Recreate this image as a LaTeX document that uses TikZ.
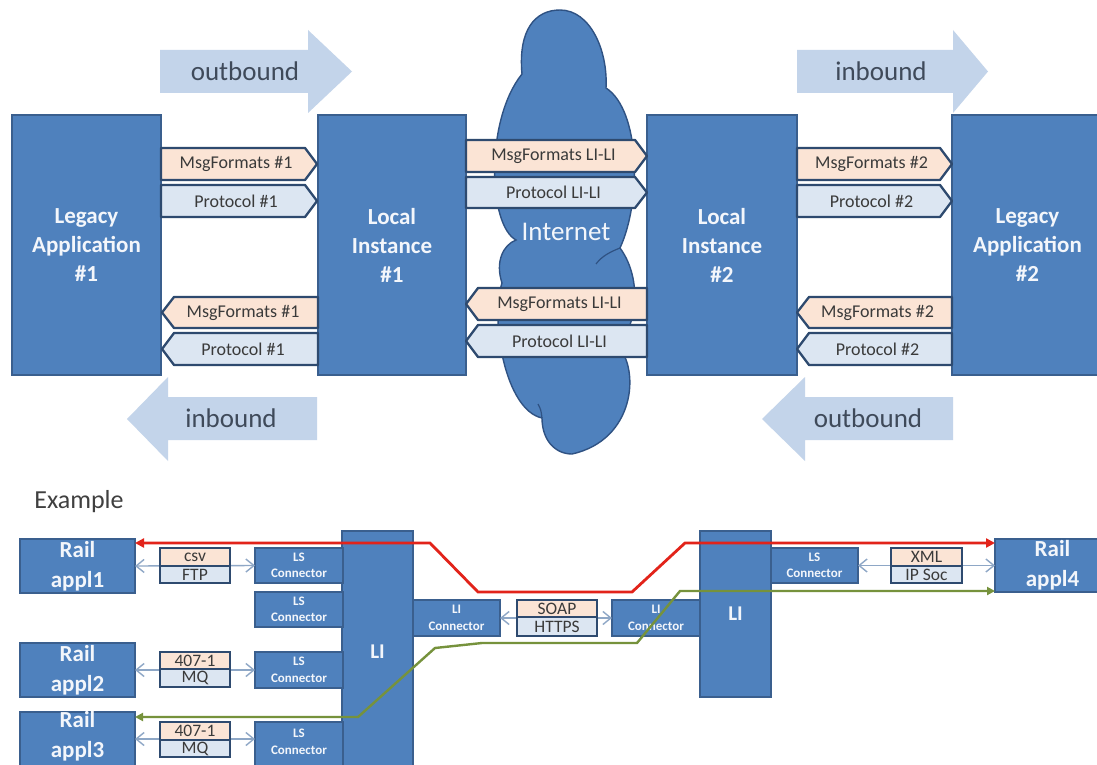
\documentclass[tikz,border=0pt]{standalone}
\usepackage{fontspec}
\setmainfont{Carlito}
\usetikzlibrary{arrows.meta}

\definecolor{boxblue}{HTML}{4F81BD}
\definecolor{boxedge}{HTML}{3A5F8E}
\definecolor{cloudedge}{HTML}{2F5283}
\definecolor{bandedge}{HTML}{2E4A6F}
\definecolor{peach}{HTML}{FBE4D5}
\definecolor{paleblue}{HTML}{DCE6F2}
\definecolor{flowfill}{HTML}{C3D4EA}
\definecolor{flowtext}{HTML}{3F4A5A}
\definecolor{labeltext}{HTML}{3A3A3A}
\definecolor{headtext}{HTML}{404040}
\definecolor{linkgray}{HTML}{8EA7C6}
\definecolor{pathred}{HTML}{E2231A}
\definecolor{pathgreen}{HTML}{76923C}
\definecolor{boxtext}{HTML}{F3F6FB}

% filled block with a centred label: name, x1, y1, x2, y2, label style, text
\newcommand\blockat[7]{%
  \node[box, minimum width={(#4)-(#2)}, minimum height={(#5)-(#3)},
        label={[#6]center:{#7}}] (#1) at (#2,#3) {};}
% right-pointing band: name, x1, x2, ytop, ybottom, fill, text
\newcommand\bandR[7]{%
  \filldraw[band, fill=#6] (#2,#4) -- ({#3-12},#4) -- (#3,{(#4+#5)/2})
     -- ({#3-12},#5) -- (#2,#5) -- cycle;
  \node[bandtext] (#1) at ({(#2+#3)/2-3},{(#4+#5)/2}) {#7};}
% left-pointing band: name, x1, x2, ytop, ybottom, fill, text
\newcommand\bandL[7]{%
  \filldraw[band, fill=#6] (#3,#4) -- ({#2+12},#4) -- (#2,{(#4+#5)/2})
     -- ({#2+12},#5) -- (#3,#5) -- cycle;
  \node[bandtext] (#1) at ({(#2+#3)/2+3},{(#4+#5)/2}) {#7};}
% stacked format/transport cells: name, x1, ytop, x2, ysplit, ybottom, upper, lower
\newcommand\cellpair[8]{%
  \node[cell, fill=peach, minimum width={(#4)-(#2)}, minimum height={(#5)-(#3)}] (#1a) at (#2,#3) {#7};
  \node[cell, fill=paleblue, minimum width={(#4)-(#2)}, minimum height={(#6)-(#5)}] (#1b) at (#2,#5) {#8};}

\begin{document}
\begin{tikzpicture}[x=1pt,y=-1pt,
  box/.style={draw=boxedge, line width=1.3pt, fill=boxblue, inner sep=0pt, outer sep=0pt, anchor=north west},
  biglabel/.style={text=boxtext, align=center, font=\fontsize{23}{29}\selectfont\bfseries},
  raillabel/.style={text=boxtext, align=center, font=\fontsize{23}{30}\selectfont\bfseries},
  conlabel/.style={text=boxtext, align=center, font=\fontsize{13}{16.5}\selectfont\bfseries},
  lilabel/.style={text=boxtext, font=\fontsize{21}{26}\selectfont\bfseries},
  band/.style={draw=bandedge, line width=2.3pt, line join=round},
  bandtext/.style={text=labeltext, font=\fontsize{18}{20}\selectfont, inner sep=0pt},
  flow/.style={fill=flowfill},
  flowlabel/.style={text=flowtext, font=\fontsize{27}{32}\selectfont, inner sep=0pt},
  cloud/.style={fill=boxblue, draw=cloudedge, line width=1.4pt},
  cloudfold/.style={draw=cloudedge, line width=1.2pt},
  cloudlabel/.style={text=boxtext, font=\fontsize{27}{32}\selectfont},
  cell/.style={draw=bandedge, line width=1.6pt, inner sep=0pt, outer sep=0pt, anchor=north west,
               text=labeltext, font=\fontsize{17.5}{18}\selectfont},
  link/.style={draw=linkgray, line width=1.4pt,
               arrows={Straight Barb[length=8pt,width=13pt]-Straight Barb[length=8pt,width=13pt]}},
  redpath/.style={draw=pathred, line width=2.8pt,
               arrows={Triangle[length=9pt,width=9pt]-Triangle[length=9pt,width=9pt]}},
  greenpath/.style={draw=pathgreen, line width=2.4pt,
               arrows={Triangle[length=8pt,width=8pt]-Triangle[length=8pt,width=8pt]}},
  extext/.style={text=headtext, font=\fontsize{26}{30}\selectfont, inner sep=0pt}
]
\useasboundingbox (0,0) rectangle (1097,765);
\fill[white] (0,0) rectangle (1097,765);

% ---------- direction arrows ----------
\fill[flow] (160,50) -- (308,50) -- (308,30) -- (352,71.5) -- (308,113) -- (308,93) -- (160,93) -- cycle;
\node[flowlabel] (outA) at (245,71.5) {outbound};
\fill[flow] (797,50) -- (953,50) -- (953,30) -- (988,71.5) -- (953,113) -- (953,93) -- (797,93) -- cycle;
\node[flowlabel] (inB) at (881,71.5) {inbound};
\fill[flow] (317,397) -- (168,397) -- (168,377) -- (127,419) -- (168,461) -- (168,440) -- (317,440) -- cycle;
\node[flowlabel] (inA) at (231,418.5) {inbound};
\fill[flow] (953,397) -- (805,397) -- (805,377) -- (762,419) -- (805,461) -- (805,440) -- (953,440) -- cycle;
\node[flowlabel] (outB) at (868,418.5) {outbound};

% ---------- internet cloud ----------
\filldraw[cloud] (560,10) .. controls (590,10) and (608,50) .. (606,88)
  .. controls (640,110) and (642,200) .. (620,248)
  .. controls (640,275) and (640,320) .. (618,346)
  .. controls (640,370) and (635,440) .. (572,454)
  .. controls (555,454) and (542,440) .. (542,418)
  .. controls (505,410) and (490,320) .. (502,283)
  .. controls (495,262) and (503,245) .. (516,240)
  .. controls (488,225) and (485,120) .. (522,74)
  .. controls (518,30) and (535,10) .. (560,10) -- cycle;
\draw[cloudfold] (620,248) .. controls (610,252) and (602,256) .. (596,264);
\draw[cloudfold] (542,418) .. controls (541,410) .. (538,404);
\node[cloudlabel] (net) at (566,232) {Internet};

% ---------- applications and local instances ----------
\blockat{legA}{12}{115}{161}{375}{biglabel}{Legacy\\Application\\\#1}
\blockat{locA}{318}{115}{466}{375}{biglabel}{Local\\Instance\\\#1}
\blockat{locB}{647}{115}{797}{375}{biglabel}{Local\\Instance\\\#2}
\blockat{legB}{952}{115}{1103}{375}{biglabel}{Legacy\\Application\\\#2}

% ---------- message format / protocol bands ----------
\bandR{mfA1}{161}{317}{148}{180}{peach}{MsgFormats \#1}
\bandR{prA1}{161}{317}{185}{217}{paleblue}{Protocol \#1}
\bandL{mfA2}{162}{318}{297}{328}{peach}{MsgFormats \#1}
\bandL{prA2}{162}{318}{333}{365}{paleblue}{Protocol \#1}
\bandR{mfN1}{466}{647}{140}{172}{peach}{MsgFormats LI-LI}
\bandR{prN1}{466}{647}{177}{208}{paleblue}{Protocol LI-LI}
\bandL{mfN2}{466}{647}{288}{320}{peach}{MsgFormats LI-LI}
\bandL{prN2}{466}{647}{325}{357}{paleblue}{Protocol LI-LI}
\bandR{mfB1}{797}{952}{148}{180}{peach}{MsgFormats \#2}
\bandR{prB1}{797}{952}{185}{217}{paleblue}{Protocol \#2}
\bandL{mfB2}{797}{952}{297}{328}{peach}{MsgFormats \#2}
\bandL{prB2}{797}{952}{333}{365}{paleblue}{Protocol \#2}

% ---------- example ----------
\node[extext] (ex) at (79,502) {Example};

\blockat{railA}{20}{539}{135}{593}{raillabel}{Rail\\appl1}
\blockat{railB}{20}{643}{135}{697}{raillabel}{Rail\\appl2}
\blockat{railC}{20}{712}{135}{768}{raillabel, yshift=4pt}{Rail\\appl3}
\blockat{railD}{995}{539}{1110}{592}{raillabel}{Rail\\appl4}

\blockat{liA}{342}{531}{413}{772}{lilabel}{LI}
\blockat{liB}{700}{531}{771}{697}{lilabel}{LI}

\blockat{lsA}{255}{548}{343}{583}{conlabel}{LS\\Connector}
\blockat{lsB}{255}{592}{343}{627}{conlabel}{LS\\Connector}
\blockat{lsC}{255}{652}{343}{688}{conlabel}{LS\\Connector}
\blockat{lsD}{255}{722}{343}{768}{conlabel, yshift=3pt}{LS\\Connector}
\blockat{lsE}{771}{548}{858}{583}{conlabel}{LS\\Connector}
\blockat{licA}{413}{600}{500}{636}{conlabel}{LI\\Connector}
\blockat{licB}{612}{600}{700}{636}{conlabel}{LI\\Connector}

% two-way links behind the format cells
\draw[link] (railA.east) -- (lsA.west);
\draw[link] (railB.east) -- (lsC.west);
\draw[link] (railC.east |- 0,739) -- (lsD.west |- 0,739);
\draw[link] (licA.east) -- (licB.west);
\draw[link] (lsE.east) -- (railD.west);

\cellpair{csvA}{160}{548}{230}{566}{583}{csv}{FTP}
\cellpair{mqB}{160}{652}{230}{669}{687}{407-1}{MQ}
\cellpair{mqC}{160}{722}{230}{740}{757}{407-1}{MQ}
\cellpair{soap}{517}{600}{597}{617}{636}{SOAP}{HTTPS}
\cellpair{xml}{891}{548}{962}{566}{583}{XML}{IP Soc}

% end-to-end message routes
\draw[redpath] (railA.east |- 0,543) -- (430,543) -- (478,592) -- (632,592) -- (685,543) -- (railD.west |- 0,543);
\draw[greenpath] (railC.east |- 0,717) -- (358,717) -- (435,648) -- (482,643) -- (637,643) -- (680,591) -- (railD.west |- 0,591);
\end{tikzpicture}
\end{document}
